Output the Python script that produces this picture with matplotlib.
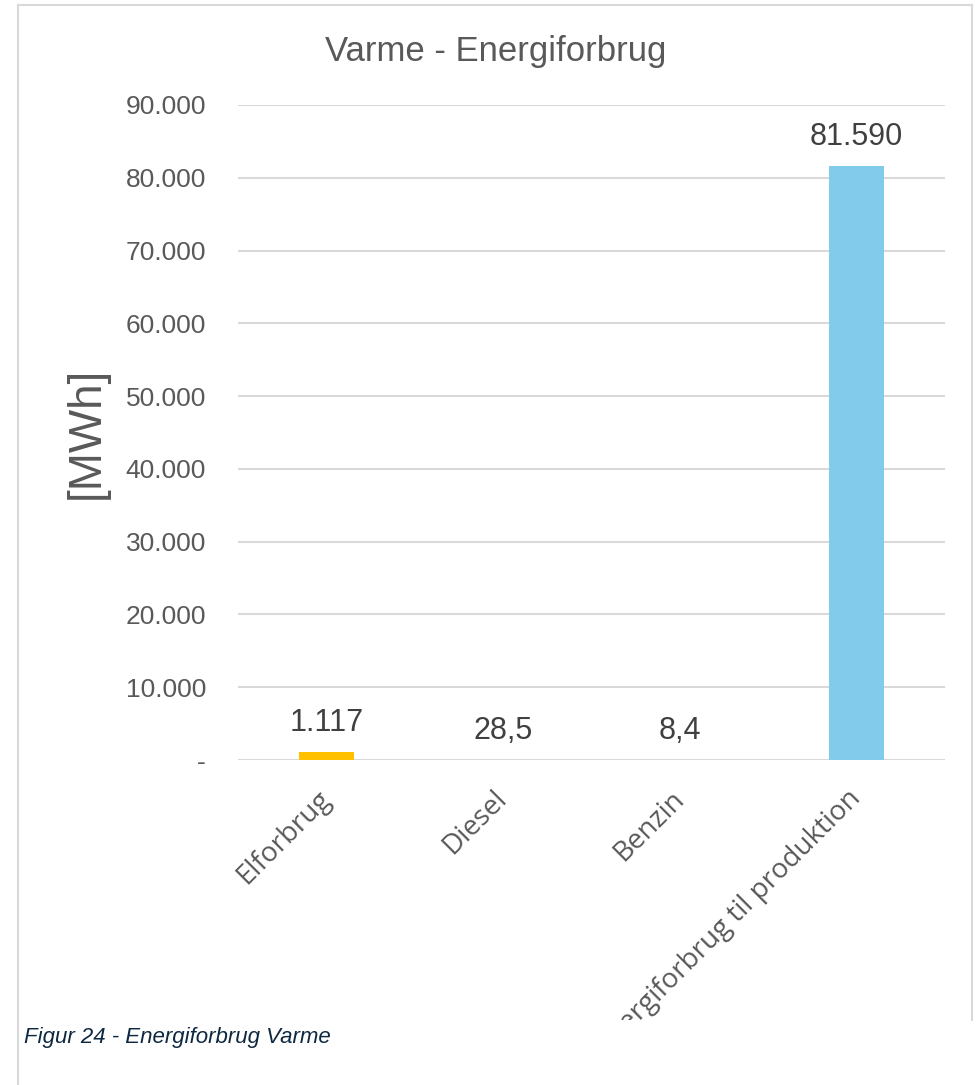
import numpy as np
import matplotlib
matplotlib.use("Agg")
import matplotlib.pyplot as plt
from matplotlib.patches import Rectangle
from matplotlib.lines import Line2D

# data
categories = ["Elforbrug", "Diesel", "Benzin", "Energiforbrug til produktion"]
values = [1117, 28.5, 8.4, 81590]
value_labels = ["1.117", "28,5", "8,4", "81.590"]
bar_colors = ["#FFC000", "#FFC000", "#FFC000", "#83CBEB"]
yticks = [0, 10000, 20000, 30000, 40000, 50000, 60000, 70000, 80000, 90000]
ytick_labels = ["-", "10.000", "20.000", "30.000", "40.000", "50.000",
                "60.000", "70.000", "80.000", "90.000"]

W, H = 976, 1085
plt.rcParams['font.family'] = ['Liberation Sans', 'DejaVu Sans']

fig = plt.figure(figsize=(W / 100, H / 100), dpi=100)
fig.patch.set_facecolor("white")

ax = fig.add_axes([238 / W, 1 - 760 / H, (945 - 238) / W, (760 - 105) / H])
x = np.arange(len(categories))
ax.bar(x, values, width=0.31, color=bar_colors, zorder=3)
ax.set_xlim(-0.5, len(categories) - 0.5)
ax.set_ylim(0, 90000)
ax.set_yticks(yticks)
ax.set_yticklabels(ytick_labels, fontsize=19, color="#595959")
ax.set_xticks(x)
ax.set_xticklabels(categories, rotation=45, ha="right", va="center",
                   rotation_mode="anchor", fontsize=20, color="#595959",
                   family=["Open Sans", "DejaVu Sans"])
ax.tick_params(axis="both", length=0)
ax.tick_params(axis="y", pad=23)
ax.tick_params(axis="x", pad=25)
for s in ax.spines.values():
    s.set_visible(False)
ax.grid(axis="y", color="#D9D9D9", linewidth=1.5, zorder=0)
ax.set_axisbelow(True)
ax.set_ylabel("[MWh]", fontsize=33, color="#595959", labelpad=12)

for xi, v, lab in zip(x, values, value_labels):
    ax.annotate(lab, (xi, v), xytext=(0, 10), textcoords="offset points",
                ha="center", va="bottom", fontsize=22, color="#404040")

fig.text(496 / W, 1 - 52 / H, "Varme - Energiforbrug", ha="center", va="center",
         fontsize=25, color="#595959")

# white cover clipping the long tick label, then the caption
fig.patches.append(Rectangle((19 / W, 0), (970 - 19) / W, 1 - 1020 / H,
                             transform=fig.transFigure, facecolor="white",
                             edgecolor="none", zorder=5))
fig.text(24 / W, 1 - 1038 / H, "Figur 24 - Energiforbrug Varme", ha="left",
         va="center", fontsize=16, style="italic", color="#0E2841", zorder=6)

# chart frame
frame_c = "#D9D9D9"
fig.add_artist(Line2D([18 / W, 18 / W], [0, 1 - 5 / H], color=frame_c, lw=1.5,
                      transform=fig.transFigure, zorder=6))
fig.add_artist(Line2D([18 / W, 972 / W], [1 - 5 / H, 1 - 5 / H], color=frame_c,
                      lw=1.5, transform=fig.transFigure, zorder=6))
fig.add_artist(Line2D([972 / W, 972 / W], [1 - 5 / H, 1 - 1020 / H], color=frame_c,
                      lw=1.5, transform=fig.transFigure, zorder=6))

fig.savefig("out.png", dpi=100)
